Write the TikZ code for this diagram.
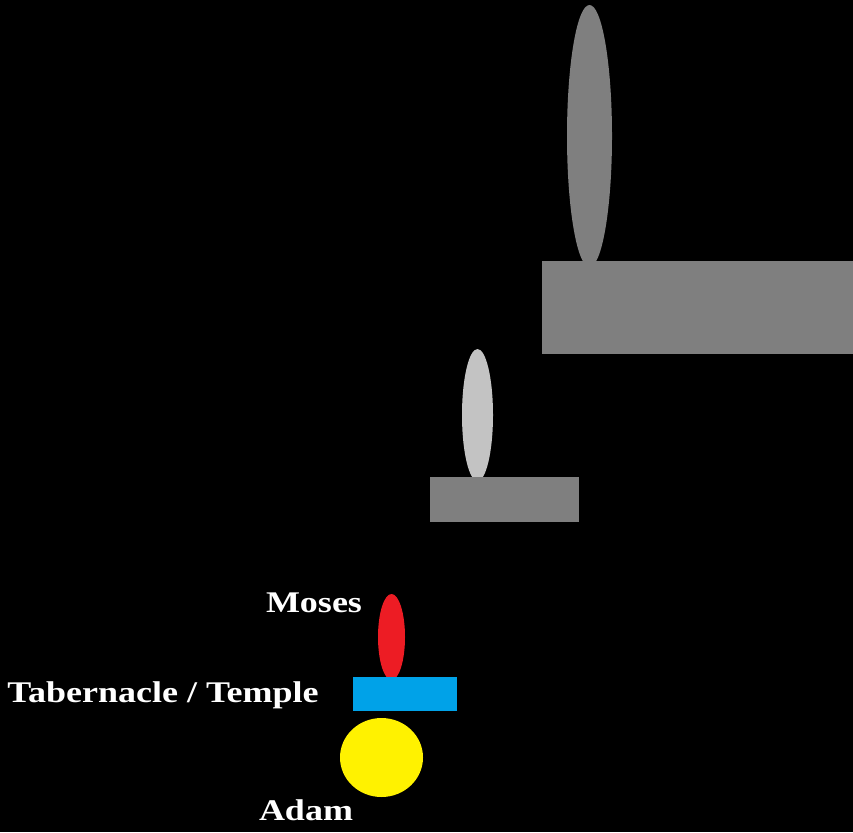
\documentclass[tikz,border=0pt]{standalone}
\usepackage{fontspec}
\setmainfont{Liberation Serif}
\usetikzlibrary{shapes.geometric}

\definecolor{stonegray}{HTML}{7F7F7F}
\definecolor{palegray}{HTML}{C3C3C3}
\definecolor{mosesred}{HTML}{ED1C24}
\definecolor{templeblue}{HTML}{00A2E8}
\definecolor{adamyellow}{HTML}{FFF200}

\newcommand{\widetext}[1]{\scalebox{1.2}[1]{#1}}

\begin{document}
\begin{tikzpicture}[
  x=1pt, y=-1pt,
  blob/.style ={ellipse, inner sep=0pt, draw=none},
  slab/.style ={rectangle, inner sep=0pt, draw=none},
  lbl/.style  ={text=white, font=\bfseries\fontsize{30}{33}\selectfont, inner sep=0pt, anchor=base},
]

% ======================= background =======================
\fill[black] (0,0) rectangle (853,832);
\useasboundingbox (0,0) rectangle (853,832);

% ======================= upper stage =======================
\node[blob, fill=stonegray, minimum width=45, minimum height=262] (bigflame) at (589.5,136) {};
\node[slab, fill=stonegray, minimum width=311, minimum height=93]  (bigbase)  at (697.5,307.5) {};

% ======================= middle stage =======================
\node[blob, fill=palegray, minimum width=31, minimum height=132]  (midflame) at (477.5,415) {};
\node[slab, fill=stonegray, minimum width=149, minimum height=45] (midbase)  at (504.5,499.5) {};

% ======================= lower stage =======================
\node[blob, fill=mosesred, minimum width=27, minimum height=86]    (moses)  at (391.5,637) {};
\node[slab, fill=templeblue, minimum width=104, minimum height=34] (temple) at (405,694) {};
\node[blob, fill=adamyellow, minimum width=83, minimum height=79]  (adam)   at (381.5,757.5) {};

% labels
\node[lbl] (mosestext)  at (314,612)   {\widetext{Moses}};
\node[lbl] (templetext) at (163,702) {\widetext{Tabernacle / Temple}};
\node[lbl] (adamtext)   at (306,820)   {\widetext{Adam}};
\end{tikzpicture}
\end{document}
